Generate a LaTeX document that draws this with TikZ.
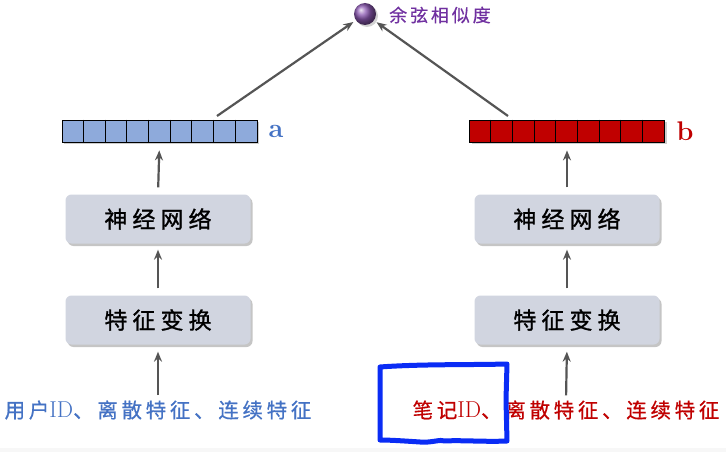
\documentclass[tikz,border=0pt]{standalone}
\usepackage{fontspec}
\usetikzlibrary{arrows.meta,shadows,calc}
\newfontfamily\cjkbox[LetterSpace=22,FakeBold=1.2]{Noto Sans CJK SC}
\newfontfamily\cjkin[LetterSpace=18,FakeBold=0.6]{Noto Sans CJK SC}
\newfontfamily\cjklab[LetterSpace=16,FakeBold=0.5]{Noto Sans CJK SC}
\definecolor{vecblue}{HTML}{8EAADB}
\definecolor{labblue}{HTML}{4472C4}
\definecolor{vecred}{HTML}{C00000}
\definecolor{purp}{HTML}{7030A0}
\definecolor{boxfill}{HTML}{D1D5E0}
\definecolor{arrgray}{HTML}{555555}
\definecolor{markblue}{HTML}{0A2CF5}
\tikzset{
  layerbox/.style={rounded corners=6pt, fill=boxfill, minimum width=185pt, minimum height=49pt,
    drop shadow={shadow xshift=2pt, shadow yshift=-2.5pt, opacity=0.45}, font=\cjkbox\fontsize{23}{26}\selectfont},
  vecbox/.style={draw=black, line width=0.8pt, minimum width=195pt, minimum height=22pt, inner sep=0pt,
    drop shadow={shadow xshift=2pt, shadow yshift=-2pt, opacity=0.4}},
  arr/.style={-{Stealth[length=10pt,width=8pt]}, line width=2.2pt, draw=arrgray},
  intext/.style={font=\fontsize{20.5}{23}\selectfont, inner sep=0pt},
  veclab/.style={font=\bfseries\fontsize{27}{28}\selectfont, inner sep=0pt}
}
\begin{document}
\begin{tikzpicture}[x=1pt,y=-1pt]
\useasboundingbox (0,0) rectangle (726,452);
\fill[white] (0,0) rectangle (726,452);
\fill[black!3] (0,448) rectangle (726,452);

% vectors
\node[vecbox, fill=vecblue] (vecA) at (159.5,131) {};
\node[vecbox, fill=vecred] (vecB) at (567,131) {};
\foreach \i in {1,...,8} {
  \draw[line width=0.8pt] ($(vecA.north west)+(\i*21.667,0)$) -- ($(vecA.south west)+(\i*21.667,0)$);
  \draw[line width=0.8pt] ($(vecB.north west)+(\i*21.667,0)$) -- ($(vecB.south west)+(\i*21.667,0)$);
}
\node[veclab, text=labblue] (la) at (276,131) {a};
\node[veclab, text=vecred] (lb) at (685,131) {b};

% boxes
\node[layerbox] (netA) at (158,219) {神经网络};
\node[layerbox] (featA) at (158,320) {特征变换};
\node[layerbox] (netB) at (567,219) {神经网络};
\node[layerbox] (featB) at (567,320) {特征变换};

% inputs
\node[intext, text=labblue] (inA) at (158,410) {{\cjkin 用户}{\fontsize{23}{24}\selectfont ID}{\cjkin 、离散特征、连续特征}};
\node[intext, text=vecred] (inB) at (566,410) {{\cjkin 笔记}{\fontsize{23}{24}\selectfont ID}{\cjkin 、离散特征、连续特征}};

% ball and label
\shade[ball color=purp!80!white, drop shadow={shadow xshift=2pt, shadow yshift=-2pt, opacity=0.35}] (365,14) circle (11);
\node[circle, minimum size=22pt, inner sep=0pt] (ball) at (365,14) {};
\node[anchor=west, text=purp, inner sep=0pt, font=\cjklab\fontsize{18}{20}\selectfont] (sim) at (389,15) {余弦相似度};

% arrows
\draw[arr, shorten <=5pt, shorten >=7pt] (inA.north) -- (featA.south);
\draw[arr, shorten <=7pt, shorten >=6pt] (featA.north) -- (netA.south);
\draw[arr, shorten <=7pt, shorten >=8pt] (netA.north) -- (vecA.south);
\draw[arr, shorten <=5pt, shorten >=7pt] (inB.north) -- (featB.south);
\draw[arr, shorten <=7pt, shorten >=6pt] (featB.north) -- (netB.south);
\draw[arr, shorten <=7pt, shorten >=8pt] (netB.north) -- (vecB.south);
\coordinate (aout) at (217,116);
\coordinate (bout) at (508,116);
\draw[arr, shorten >=3pt] (aout) -- (ball);
\draw[arr, shorten >=3pt] (bout) -- (ball);

% hand-drawn marker
\draw[markblue, line width=5pt, line join=round, line cap=round]
  (380,367) .. controls (420,364) and (470,365) .. (507,364)
  -- (506,400) -- (507,441)
  .. controls (485,442) and (460,440) .. (445,441)
  .. controls (440,439) and (432,443) .. (420,442)
  .. controls (405,441) and (390,440) .. (380,440)
  -- (380,400) -- cycle;
\end{tikzpicture}
\end{document}
